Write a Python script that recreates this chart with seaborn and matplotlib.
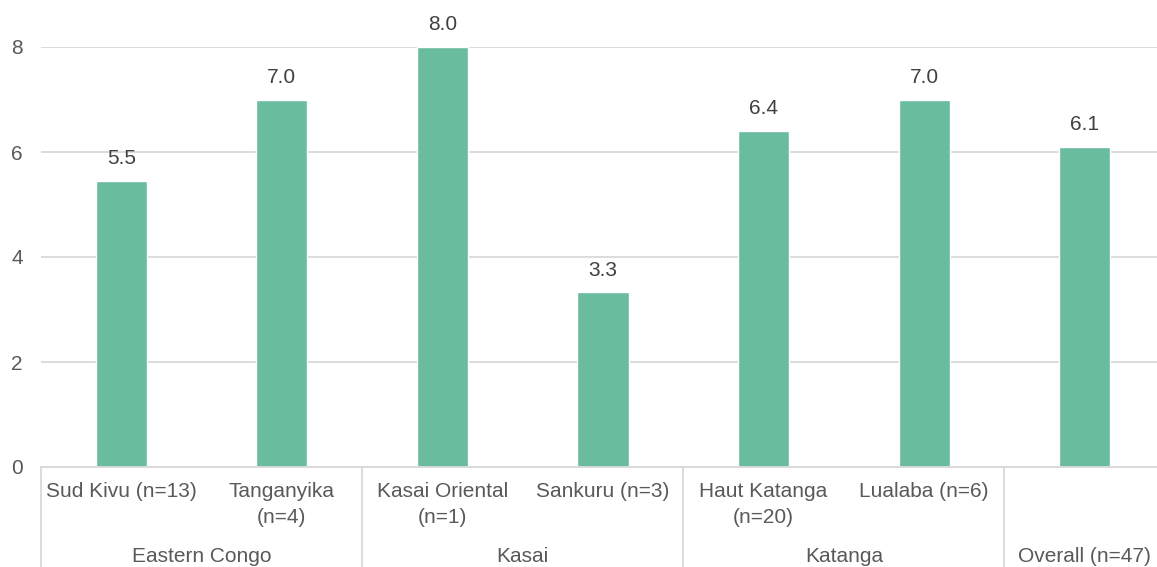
import matplotlib
matplotlib.use("Agg")
import matplotlib.pyplot as plt
import matplotlib.transforms as mtransforms
import seaborn as sns
import pandas as pd

# Chart data
regions = ["Sud Kivu (n=13)", "Tanganyika\n(n=4)", "Kasai Oriental\n(n=1)", "Sankuru (n=3)",
           "Haut Katanga\n(n=20)", "Lualaba (n=6)", ""]
values = [5.45, 7.0, 8.0, 3.33, 6.4, 7.0, 6.1]
value_labels = ["5.5", "7.0", "8.0", "3.3", "6.4", "7.0", "6.1"]
groups = ["Eastern Congo", "Kasai", "Katanga", "Overall (n=47)"]
group_sizes = [2, 2, 2, 1]
yticks = [0, 2, 4, 6, 8]

df = pd.DataFrame({"region": [f"r{i}" for i in range(len(values))], "value": values})

sns.set_style("white")
plt.rcParams["font.family"] = ["Liberation Sans", "DejaVu Sans"]

bar_color = "#69bd9e"
text_color = "#595959"
grid_color = "#d9d9d9"
fs = 15

fig = plt.figure(figsize=(11.57, 5.67), dpi=100)
ax = fig.add_axes([41 / 1157, 1 - 467 / 567, 1124 / 1157, 420 / 567])

sns.barplot(data=df, x="region", y="value", color=bar_color, width=0.318,
            saturation=1, ax=ax, zorder=3)

ax.set_xlim(-0.5, len(values) - 0.5)
ax.set_ylim(0, 8)
ax.set_yticks(yticks)
ax.set_yticklabels([str(t) for t in yticks], fontsize=fs, color=text_color)
ax.tick_params(axis="y", length=0, pad=13)
ax.yaxis.grid(True, color=grid_color, linewidth=1.3, zorder=0)
ax.set_axisbelow(True)
for s in ax.spines.values():
    s.set_visible(False)

ax.set_xticks(range(len(values)))
ax.set_xticklabels(regions, fontsize=fs, color=text_color, linespacing=1.45)
ax.tick_params(axis="x", length=0, pad=11)
ax.set_xlabel("")
ax.set_ylabel("")

# value labels
for i, (v, lab) in enumerate(zip(values, value_labels)):
    ax.annotate(lab, (i, v), xytext=(0, 9), textcoords="offset points",
                ha="center", va="bottom", fontsize=fs, color="#404040", clip_on=False)

# group separators and labels
trans = mtransforms.blended_transform_factory(ax.transData, ax.transAxes)
ax.plot([-0.5, len(values) - 0.5], [0, 0], color=grid_color, lw=1.3,
        transform=trans, clip_on=False, zorder=4)
start = 0
for g, n in zip(groups, group_sizes):
    left = start - 0.5
    ax.plot([left, left], [0, -0.25], color=grid_color, lw=1.3,
            transform=trans, clip_on=False)
    ax.text(start + (n - 1) / 2, -0.212, g, transform=trans, ha="center", va="center",
            fontsize=fs, color=text_color)
    start += n

fig.savefig("out.png", dpi=100)
